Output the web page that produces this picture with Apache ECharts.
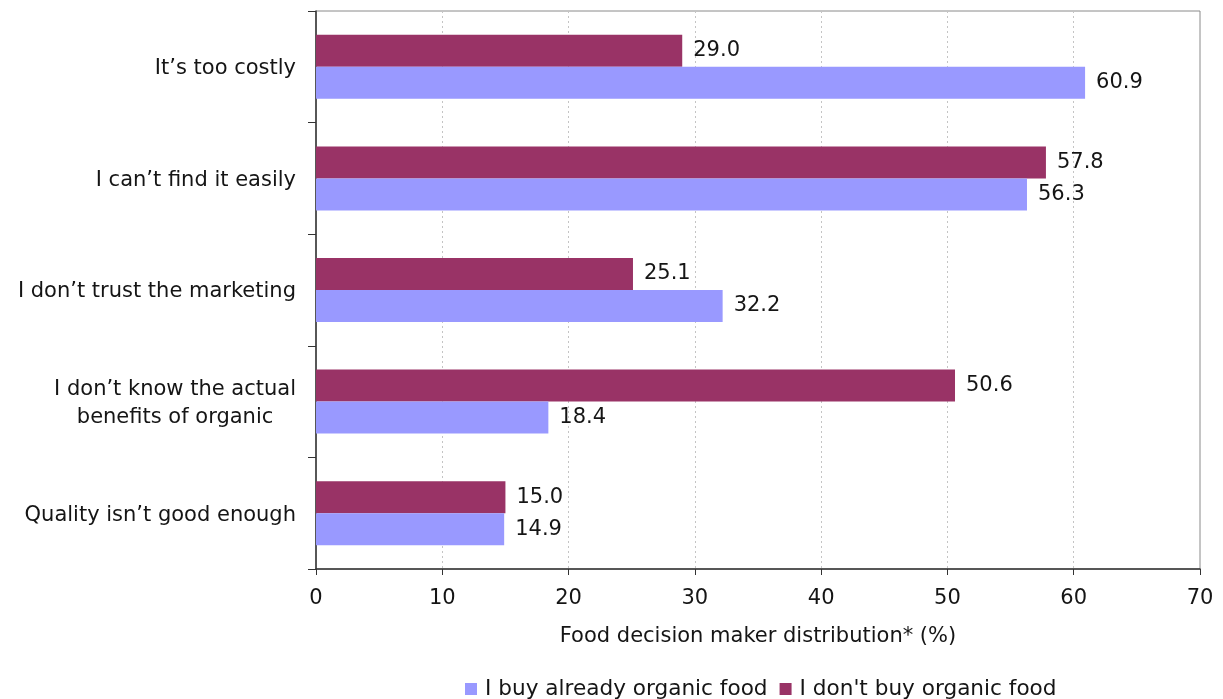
<!DOCTYPE html>
<html>
<head>
<meta charset="utf-8">
<script src="https://cdn.jsdelivr.net/npm/echarts@6/dist/echarts.min.js"></script>
<style>
  html, body { margin: 0; padding: 0; background: #fff; }
  #chart { width: 1223px; height: 699px; }
</style>
</head>
<body>
<div id="chart"></div>
<script>
// Reasons for not buying organic food, by respondent group
const categories = [
  "It\u2019s too costly",
  "I can\u2019t find it easily",
  "I don\u2019t trust the marketing",
  "I don\u2019t know the actual\nbenefits of organic",
  "Quality isn\u2019t good enough"
];
const buyAlready = [60.9, 56.3, 32.2, 18.4, 14.9];
const dontBuy = [29.0, 57.8, 25.1, 50.6, 15.0];
const xTicks = [0, 10, 20, 30, 40, 50, 60, 70];
const seriesNames = ["I buy already organic food", "I don't buy organic food"];

const FONT = "'DejaVu Sans', Verdana, sans-serif";
const FS = 21;
const TXT = '#151515';
const chart = echarts.init(document.getElementById('chart'));

const valueLabel = {
  show: true,
  position: 'right',
  distance: 11,
  fontFamily: FONT,
  fontSize: FS,
  color: TXT,
  formatter: p => p.value.toFixed(1)
};

chart.setOption({
  animation: false,
  textStyle: { fontFamily: FONT },
  grid: {
    left: 316, right: 23, top: 11, bottom: 130,
    show: true, borderColor: '#8a8a8a', borderWidth: 1
  },
  legend: {
    data: seriesNames,
    top: 678,
    left: 465,
    padding: 0,
    itemWidth: 12, itemHeight: 12, itemGap: 12,
    icon: 'rect',
    textStyle: { fontFamily: FONT, fontSize: 21.6, color: TXT, padding: [0, 0, 0, 3] }
  },
  xAxis: {
    type: 'value',
    min: xTicks[0], max: xTicks[xTicks.length - 1], interval: 10,
    name: 'Food decision maker distribution* (%)',
    nameLocation: 'middle', nameGap: 57,
    nameTextStyle: { fontFamily: FONT, fontSize: FS, color: TXT },
    axisLine: { show: true, lineStyle: { color: '#333', width: 1.5 } },
    axisTick: { show: true, length: 6, lineStyle: { color: '#333' } },
    axisLabel: { fontFamily: FONT, fontSize: FS, color: TXT, margin: 19 },
    splitLine: { show: true, lineStyle: { color: '#c4c4c4', type: [2, 3] } }
  },
  yAxis: {
    type: 'category',
    inverse: true,
    data: categories,
    axisLine: { show: true, lineStyle: { color: '#333', width: 1.5 } },
    axisTick: { show: true, length: 8, alignWithLabel: false, lineStyle: { color: '#333' } },
    axisLabel: {
      fontFamily: FONT, fontSize: FS, color: TXT, margin: 20, lineHeight: 28,
      padding: [4, 0, 0, 0],
      formatter: v => v.split('\n').map(s => '{c|' + s + '}').join('\n'),
      rich: { c: { align: 'center', fontFamily: FONT, fontSize: FS, color: TXT, lineHeight: 28 } }
    },
    splitLine: { show: false }
  },
  series: [
    {
      name: seriesNames[1], type: 'bar', data: dontBuy,
      barWidth: 32, barGap: '0%',
      itemStyle: { color: '#993366' },
      label: valueLabel
    },
    {
      name: seriesNames[0], type: 'bar', data: buyAlready,
      barWidth: 32, barGap: '0%',
      itemStyle: { color: '#9999ff' },
      label: valueLabel
    }
  ]
});
</script>
</body>
</html>
